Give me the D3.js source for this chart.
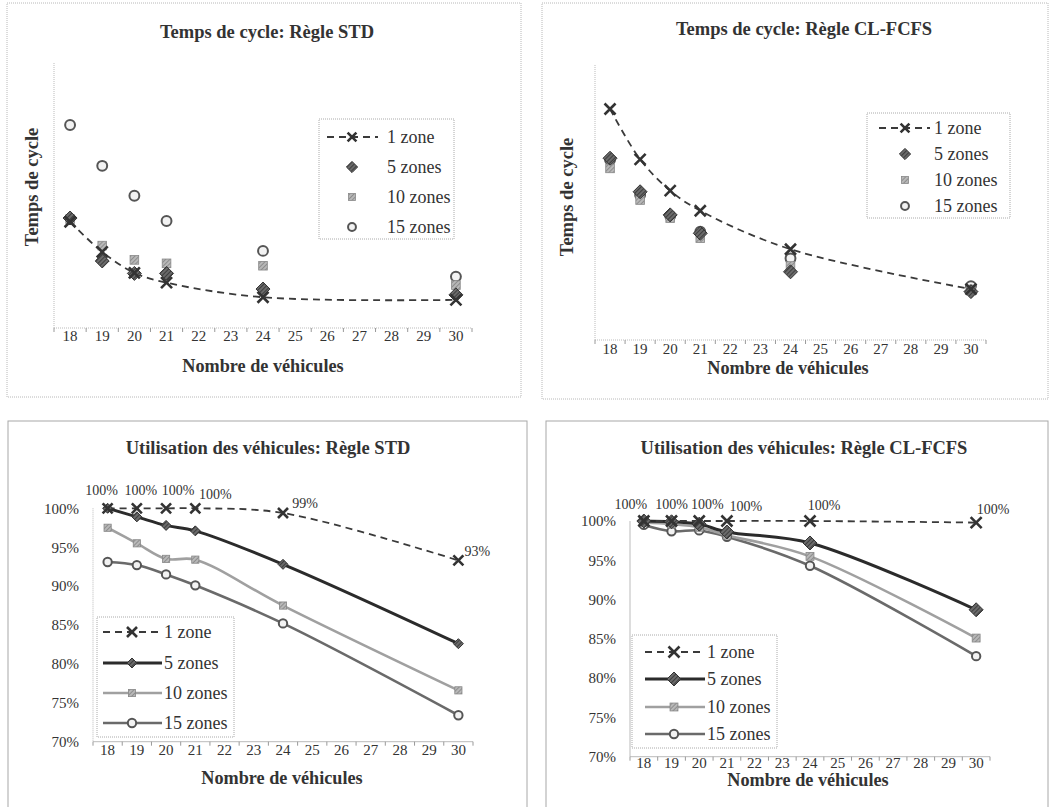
<!DOCTYPE html>
<html>
<head>
<meta charset="utf-8">
<script src="https://cdn.jsdelivr.net/npm/d3@7"></script>
<style>
  body { margin: 0; background: #fff; }
</style>
</head>
<body>
<svg width="1050" height="807"></svg>
<script>
// categories on the x axis, and the vehicle counts that were simulated
var categories = [18, 19, 20, 21, 22, 23, 24, 25, 26, 27, 28, 29, 30];
var vehicles = [18, 19, 20, 21, 24, 30];
var seriesNames = ["1 zone", "5 zones", "10 zones", "15 zones"];
var pctTicks = [70, 75, 80, 85, 90, 95, 100];

// temps de cycle, regle STD (relative units, no scale printed)
var cycleStd1 = [40.1, 28.7, 20.8, 17.1, 11.6, 10.6];
var cycleStd5 = [41.5, 25.3, 20.6, 20.6, 14.7, 12.5];
var cycleStd10 = [41.1, 31.1, 25.7, 24.4, 23.5, 16.2];
var cycleStd15 = [76.6, 61.2, 49.9, 40.4, 29.1, 19.4];

// temps de cycle, regle CL-FCFS
var cycleCl1 = [84.0, 65.7, 54.3, 47.0, 33.0, 18.5];
var cycleCl5 = [66.1, 53.9, 45.5, 38.8, 24.8, 17.6];
var cycleCl10 = [62.4, 50.9, 44.3, 37.0, 26.9, 18.4];
var cycleCl15 = [65.5, 52.7, 45.1, 39.4, 29.7, 19.6];

// utilisation des vehicules (%), regle STD
var utilStd1 = [100, 100, 100, 100, 99.4, 93.3];
var utilStd5 = [100, 98.9, 97.8, 97.1, 92.8, 82.6];
var utilStd10 = [97.5, 95.5, 93.5, 93.4, 87.5, 76.6];
var utilStd15 = [93.1, 92.7, 91.5, 90.1, 85.2, 73.4];

// utilisation des vehicules (%), regle CL-FCFS
var utilCl1 = [100, 100, 100, 100, 100, 99.8];
var utilCl5 = [100, 99.9, 99.6, 98.6, 97.2, 88.7];
var utilCl10 = [99.8, 99.6, 99.2, 98.2, 95.5, 85.1];
var utilCl15 = [99.5, 98.7, 98.8, 98.0, 94.3, 82.8];

var svg = d3.select("svg");

// hatched fills, the print version of the chart is textured grey
var defs = svg.append("defs");
function hatch(id, bg, fg) {
  var pt = defs.append("pattern").attr("id", id).attr("patternUnits", "userSpaceOnUse")
    .attr("width", 3).attr("height", 3).attr("patternTransform", "rotate(45)");
  pt.append("rect").attr("width", 3).attr("height", 3).attr("fill", bg);
  pt.append("line").attr("x1", 0).attr("x2", 0).attr("y1", 0).attr("y2", 3)
    .attr("stroke", fg).attr("stroke-width", 1.4);
}
hatch("hDark", "#6a6a6a", "#2a2a2a");
hatch("hGrey", "#b8b8b8", "#7a7a7a");

// look of each series: marker + line
var styles = [
  {marker: "cross", line: "#3a3a3a", width: 1.8, dash: "7,5"},
  {marker: "diamond", line: "#2b2b2b", width: 3, dash: null},
  {marker: "square", line: "#a0a0a0", width: 2.6, dash: null},
  {marker: "circle", line: "#6a6a6a", width: 2.6, dash: null}
];

function drawMarker(g, type, x, y, s) {
  var h = s / 2;
  if (type == "cross") {
    g.append("path")
      .attr("d", "M" + (x - h) + "," + (y - h) + "L" + (x + h) + "," + (y + h) +
                 "M" + (x - h) + "," + (y + h) + "L" + (x + h) + "," + (y - h))
      .attr("stroke", "#333").attr("stroke-width", 2.6).attr("fill", "none");
  } else if (type == "diamond") {
    g.append("path")
      .attr("d", "M" + x + "," + (y - h) + "L" + (x + h) + "," + y + "L" + x + "," + (y + h) + "L" + (x - h) + "," + y + "Z")
      .attr("fill", "url(#hDark)").attr("stroke", "#333").attr("stroke-width", 1);
  } else if (type == "square") {
    h = s * 0.36;
    g.append("rect")
      .attr("x", x - h).attr("y", y - h).attr("width", 2 * h).attr("height", 2 * h)
      .attr("fill", "url(#hGrey)").attr("stroke", "#888").attr("stroke-width", 0.8);
  } else {
    g.append("circle")
      .attr("cx", x).attr("cy", y).attr("r", s * 0.38)
      .attr("fill", "#f2f2f2").attr("stroke", "#555").attr("stroke-width", 2);
  }
}

var panels = [
  {frame: [7, 3, 514, 394], solid: false, title: "Temps de cycle: Règle STD", titleX: 267, titleY: 38,
   left: 54, right: 472, top: 63, bottom: 328, pct: false, ytitle: true, ytitleX: 38, ytitleY: 187,
   xtitleX: 263, xtitleY: 372, tickY: 340, series: [cycleStd1, cycleStd5, cycleStd10, cycleStd15],
   legend: {x: 319, y: 119, w: 135, h: 120, rows: [137, 167, 197, 227], l0: 327, l1: 378, sx: 352, tx: 387},
   msize: [11, 14, 12, 13], lineOnly: [true, false, false, false]},
  {frame: [542, 3, 506, 396], solid: false, title: "Temps de cycle: Règle CL-FCFS", titleX: 804, titleY: 35,
   left: 595, right: 986, top: 65, bottom: 340, pct: false, ytitle: true, ytitleX: 573, ytitleY: 197,
   xtitleX: 788, xtitleY: 374, tickY: 353, series: [cycleCl1, cycleCl5, cycleCl10, cycleCl15],
   legend: {x: 867, y: 113, w: 143, h: 105, rows: [128, 154, 180, 206], l0: 879, l1: 930, sx: 905, tx: 934},
   msize: [11, 14, 12, 13], lineOnly: [true, false, false, false]},
  {frame: [8, 421, 519, 390], solid: true, title: "Utilisation des véhicules: Règle STD", titleX: 268, titleY: 454,
   left: 93, right: 473, top: 508.3, bottom: 741.7, pct: true, ytickX: 79,
   xtitleX: 282, xtitleY: 784, tickY: 754, series: [utilStd1, utilStd5, utilStd10, utilStd15],
   legend: {x: 97, y: 617, w: 137, h: 120, rows: [632, 663, 693, 723], l0: 103, l1: 162, sx: 132, tx: 164},
   msize: [10, 10, 10, 11], lineOnly: [false, false, false, false],
   labDx: [-6, 4, 12, 20, 22, 19], labDy: [-17, -17, -17, -13, -9, -8]},
  {frame: [546, 421, 502, 390], solid: true, title: "Utilisation des véhicules: Règle CL-FCFS", titleX: 804, titleY: 454,
   left: 630, right: 990, top: 521, bottom: 756.7, pct: true, ytickX: 616,
   xtitleX: 808, xtitleY: 786, tickY: 767, series: [utilCl1, utilCl5, utilCl10, utilCl15],
   legend: {x: 632, y: 635, w: 145, h: 113, rows: [652, 679, 707, 734], l0: 645, l1: 705, sx: 674, tx: 707},
   msize: [11, 14, 11, 11], lineOnly: [false, false, false, false],
   labDx: [-13, 0, 8, 19, 14, 17], labDy: [-16, -16, -16, -14, -15, -13]}
];

panels.forEach(function(p) {
  var g = svg.append("g");

  g.append("rect")
    .attr("x", p.frame[0]).attr("y", p.frame[1]).attr("width", p.frame[2]).attr("height", p.frame[3])
    .attr("fill", "none").attr("stroke", p.solid ? "#a8a8a8" : "#b8b8b8")
    .attr("stroke-dasharray", p.solid ? null : "1,1");

  g.append("text").attr("x", p.titleX).attr("y", p.titleY)
    .attr("text-anchor", "middle").attr("font-size", 18.5).attr("font-weight", "bold")
    .text(p.title);

  var x = d3.scaleBand().domain(categories).range([p.left, p.right]);
  var cx = function(v) { return x(v) + x.bandwidth() / 2; };
  var y = d3.scaleLinear().domain(p.pct ? [70, 100] : [0, 100]).range([p.bottom, p.top]);

  // axes
  g.append("line").attr("x1", p.left).attr("x2", p.left).attr("y1", p.top).attr("y2", p.bottom)
    .attr("stroke", "#bbb").attr("stroke-dasharray", p.solid && p.left > 500 ? null : "1,1");
  g.append("line").attr("x1", p.left).attr("x2", p.right).attr("y1", p.bottom).attr("y2", p.bottom)
    .attr("stroke", "#bbb").attr("stroke-dasharray", p.solid ? null : "1,1");

  var xAxis = g.append("g").attr("transform", "translate(0," + p.bottom + ")")
    .call(d3.axisBottom(x).tickSize(0).tickPadding(p.tickY - p.bottom - 10));
  xAxis.select(".domain").remove();
  xAxis.selectAll("text").attr("font-size", 15);
  // tick marks between categories
  g.selectAll(".sep").data(d3.range(categories.length + 1)).enter().append("line")
    .attr("x1", function(i) { return p.left + i * x.bandwidth(); })
    .attr("x2", function(i) { return p.left + i * x.bandwidth(); })
    .attr("y1", p.bottom).attr("y2", p.bottom + 4)
    .attr("stroke", "#999");

  if (p.pct) {
    var yAxis = g.append("g").attr("transform", "translate(" + p.ytickX + ",0)")
      .call(d3.axisLeft(y).tickValues(pctTicks).tickSize(0).tickPadding(0)
        .tickFormat(function(d) { return d + "%"; }));
    yAxis.select(".domain").remove();
    yAxis.selectAll("text").attr("font-size", 15).attr("text-anchor", "end");
  }

  if (p.ytitle) {
    g.append("text")
      .attr("transform", "translate(" + p.ytitleX + "," + p.ytitleY + ") rotate(-90)")
      .attr("text-anchor", "middle").attr("font-size", 18.5).attr("font-weight", "bold")
      .text("Temps de cycle");
  }
  g.append("text").attr("x", p.xtitleX).attr("y", p.xtitleY)
    .attr("text-anchor", "middle").attr("font-size", 18.2).attr("font-weight", "bold")
    .text("Nombre de véhicules");

  // series: lines first, markers on top
  var line = d3.line()
    .x(function(d, i) { return cx(vehicles[i]); })
    .y(function(d) { return y(d); })
    .curve(d3.curveCatmullRom.alpha(0.5));

  var order = [3, 2, 1, 0];
  order.forEach(function(s) {
    var st = styles[s];
    if (p.pct || p.lineOnly[s]) {
      g.append("path").datum(p.series[s]).attr("d", line)
        .attr("fill", "none").attr("stroke", st.line).attr("stroke-width", st.width)
        .attr("stroke-dasharray", st.dash);
    }
  });
  order.forEach(function(s) {
    p.series[s].forEach(function(v, i) {
      drawMarker(g, styles[s].marker, cx(vehicles[i]), y(v), p.msize[s]);
    });
  });

  // data labels on the 1 zone series
  if (p.pct) {
    p.series[0].forEach(function(v, i) {
      g.append("text")
        .attr("x", cx(vehicles[i]) + p.labDx[i])
        .attr("y", y(v) + p.labDy[i] + 4)
        .attr("text-anchor", "middle").attr("font-size", 14)
        .text(Math.round(v) + "%");
    });
  }

  // legend
  var L = p.legend;
  g.append("rect").attr("x", L.x).attr("y", L.y).attr("width", L.w).attr("height", L.h)
    .attr("fill", "#fff").attr("stroke", "#aaa").attr("stroke-dasharray", "1,1");
  seriesNames.forEach(function(name, s) {
    var st = styles[s];
    var ry = L.rows[s];
    if (p.pct || p.lineOnly[s]) {
      g.append("line").attr("x1", L.l0).attr("x2", L.l1).attr("y1", ry).attr("y2", ry)
        .attr("stroke", st.line).attr("stroke-width", st.width).attr("stroke-dasharray", st.dash);
    }
    drawMarker(g, st.marker, L.sx, ry, p.pct ? p.msize[s] : p.msize[s] * 0.8);
    g.append("text").attr("x", L.tx).attr("y", ry + 6)
      .attr("font-size", 18).text(name);
  });
});

// every text in the Times-like face of the original
svg.selectAll("text").style("font-family", "'Liberation Serif', serif").style("fill", "#333");
</script>
</body>
</html>
